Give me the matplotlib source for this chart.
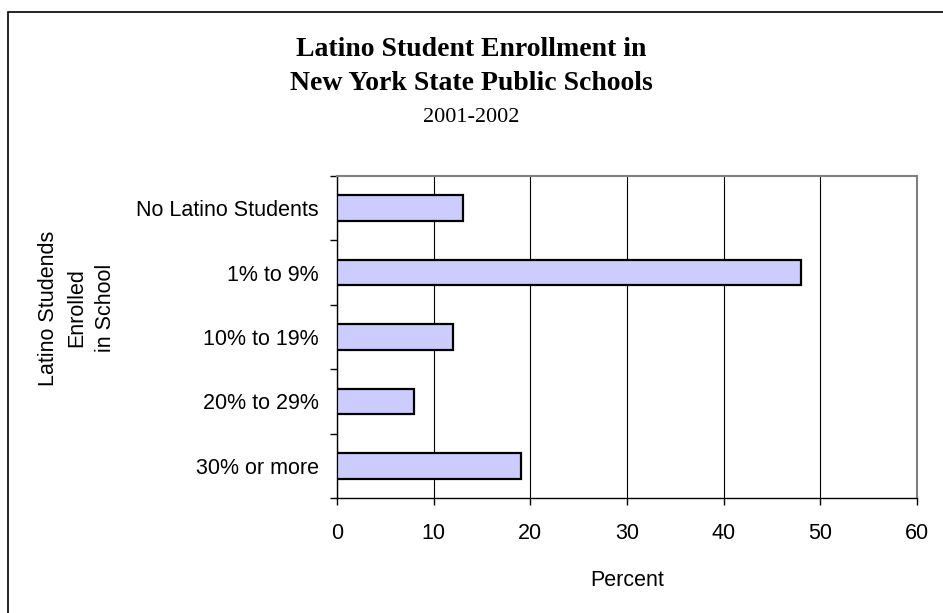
import matplotlib
matplotlib.use('Agg')
import matplotlib.pyplot as plt
import numpy as np
from matplotlib.patches import Rectangle

# Категорії та відсотки шкіл
categories = ['No Latino Students', '1% to 9%', '10% to 19%', '20% to 29%', '30% or more']
percent = [13, 48, 12, 8, 19]
x_ticks = [0, 10, 20, 30, 40, 50, 60]

fig = plt.figure(figsize=(9.43, 6.13), dpi=100)
ax = fig.add_axes([337/943, 1 - 498/613, 580/943, 322/613])

y = np.arange(len(categories))
ax.barh(y, percent, height=0.4, color='#CCCCFF', edgecolor='black', linewidth=1.6, zorder=3)

ax.set_xlim(0, 60)
ax.set_ylim(len(categories) - 0.5, -0.5)
ax.set_xticks(x_ticks)
ax.set_yticks(y)
ax.set_yticklabels(categories)
ax.set_yticks(np.arange(-0.5, len(categories)), minor=True)

sans = 'Liberation Sans'
serif = 'Liberation Serif'
for lab in ax.get_xticklabels() + ax.get_yticklabels():
    lab.set_fontfamily(sans)
    lab.set_fontsize(15.5)

ax.tick_params(axis='y', which='major', length=0, pad=13)
ax.tick_params(axis='y', which='minor', length=5, width=1, direction='out', color='black')
ax.tick_params(axis='x', length=5, width=1, direction='out', pad=13, color='black')

# сітка по осі X
ax.grid(axis='x', color='black', linewidth=0.8, zorder=1)

for side in ['top', 'right']:
    ax.spines[side].set_color('#808080')
    ax.spines[side].set_linewidth(1.5)
for side in ['left', 'bottom']:
    ax.spines[side].set_color('black')
    ax.spines[side].set_linewidth(1.0)

ax.set_xlabel('Percent', fontfamily=sans, fontsize=15.5, labelpad=19)

fig.text(77/943, 1 - 308/613, 'Latino Studends\nEnrolled\nin School', rotation=90,
         ha='center', va='center', multialignment='center',
         fontfamily=sans, fontsize=15.5, linespacing=1.45)

# заголовок
fig.text(0.5, 1 - 49/613, 'Latino Student Enrollment in', ha='center', va='center',
         fontfamily=serif, fontweight='bold', fontsize=20)
fig.text(0.5, 1 - 84/613, 'New York State Public Schools', ha='center', va='center',
         fontfamily=serif, fontweight='bold', fontsize=20)
fig.text(0.5, 1 - 118/613, '2001-2002', ha='center', va='center',
         fontfamily=serif, fontsize=16)

# рамка навколо всього рисунка
fig.patches.append(Rectangle((8/943, -0.1), 1.2, 1 - 12/613 + 0.1, transform=fig.transFigure,
                             fill=False, edgecolor='black', linewidth=1.2))

fig.savefig('out.png', dpi=100)
